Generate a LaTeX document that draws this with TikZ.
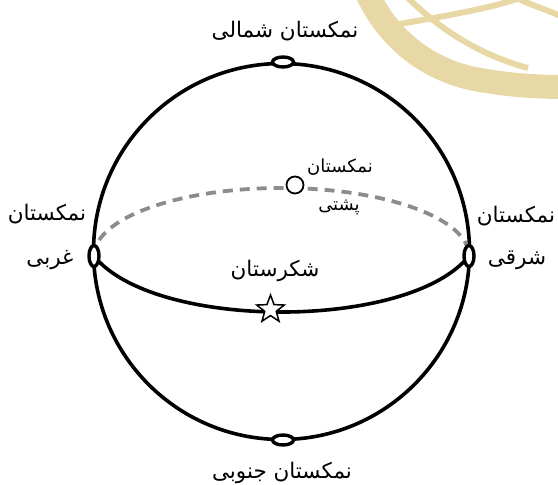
\documentclass[tikz,border=0pt]{standalone}
\usepackage{fontspec}
\usetikzlibrary{shapes.geometric}
\newfontfamily\fa[Script=Arabic]{DejaVu Sans}
\TeXXeTstate=1
\newcommand\fatext[1]{\beginR#1\endR}
\definecolor{wm}{HTML}{E8D8A6}
\definecolor{dashgray}{HTML}{8C8C8C}
\tikzset{
  lbl/.style={font=\fa\fontsize{21.5}{25}\selectfont, inner sep=0pt},
  slbl/.style={font=\fa\fontsize{18}{22}\selectfont, inner sep=0pt},
  pole/.style={ellipse, draw, line width=3.4pt, fill=white, inner sep=0pt},
  hpole/.style={pole, minimum width=21pt, minimum height=10pt},
  vpole/.style={pole, minimum width=10pt, minimum height=21pt},
  wmthick/.style={wm, line width=24pt},
  wmthin/.style={wm, line width=6pt},
  sphere/.style={line width=3.6pt},
  backline/.style={dashgray, line width=3.8pt, dash pattern=on 10pt off 7pt},
  backpole/.style={circle, draw, line width=1.8pt, fill=white, minimum size=17pt, inner sep=0pt},
  city/.style={star, star points=5, star point ratio=2.4, draw, line width=1.5pt, fill=white, minimum size=29pt, inner sep=0pt}
}
\begin{document}
\begin{tikzpicture}[x=1pt,y=-1pt]
\useasboundingbox (0,0) rectangle (558,485);
% watermark
\draw[wmthick] (368,-5) .. controls (390,42) and (432,72) .. (480,80) .. controls (510,85) and (535,87) .. (565,87);
\draw[wmthin] (378,28) .. controls (430,18) and (490,10) .. (528,-5);
\draw[wmthin] (405,-5) .. controls (440,30) and (480,55) .. (528,68);
\draw[wmthin] (515,-3) .. controls (530,5) and (548,10) .. (565,18);
% sphere
\coordinate (O) at (281.5,251.5);
\coordinate (Wc) at (94,256);
\coordinate (Ec) at (469,256);
\draw[sphere] (O) circle[radius=188];
\draw[backline] (Wc) arc[start angle=180, end angle=360, x radius=187.5, y radius=68];
\draw[sphere] (Wc) .. controls (154,330.7) and (409,330.7) .. (Ec);
% poles
\node[hpole] (N) at (283,62) {};
\node[hpole] (S) at (283,440) {};
\node[vpole] (W) at (Wc) {};
\node[vpole] (E) at (Ec) {};
\node[backpole] (B) at (295,185) {};
\node[city] (C) at (270.5,309.5) {};
% labels
\node[lbl] (tN) at (285,31) {\fatext{نمکستان شمالی}};
\node[lbl] (tW1) at (47,214) {\fatext{نمکستان}};
\node[lbl] (tW2) at (50,260) {\fatext{غربی}};
\node[lbl] (tE1) at (516,216) {\fatext{نمکستان}};
\node[lbl] (tE2) at (517,260) {\fatext{شرقی}};
\node[lbl] (tC) at (275,271) {\fatext{شکرستان}};
\node[slbl] (tB1) at (340,167) {\fatext{نمکستان}};
\node[slbl] (tB2) at (339,207) {\fatext{پشتی}};
\node[lbl] (tS) at (282,473) {\fatext{نمکستان جنوبی}};
\end{tikzpicture}
\end{document}
